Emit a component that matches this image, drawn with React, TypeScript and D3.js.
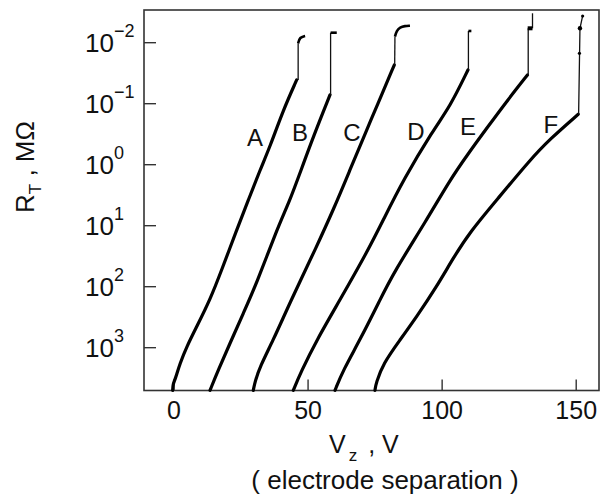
import * as d3 from "d3";

const W = 601, H = 502;
const M = { left: 144, top: 10, right: 599, bottom: 390.5 };
const FONT = "'Liberation Sans', Arial, Helvetica, sans-serif";

// x: electrode voltage Vz (V); y: log10 of R_T (MΩ), axis runs 10^-2 at top to 10^3 at bottom
const X_TICKS = [0, 50, 100, 150];
const Y_TICKS = [-2, -1, 0, 1, 2, 3];

// [Vz, log10 R] — main thick traces
const curveA = [[-0.5, 3.70], [-0.37, 3.595], [0.37, 3.53], [2.24, 3.256], [4.74, 2.984], [8.46, 2.656], [13.42, 2.218], [17.79, 1.725], [23.38, 1.07], [27.7, 0.582], [32.07, 0.09], [35.79, -0.295], [40.75, -0.897], [45.75, -1.389]];
const curveB = [[13.42, 3.70], [16.52, 3.366], [20.88, 2.928], [25.84, 2.436], [30.84, 1.944], [38.29, 1.07], [43.25, 0.582], [46.98, 0.136], [52.2, -0.487], [58.17, -1.143]];
const curveC = [[29.57, 3.70], [30.2, 3.557], [32.07, 3.311], [37.02, 2.874], [42.02, 2.382], [46.98, 1.915], [52.57, 1.398], [59.4, 0.743], [65.62, 0.086], [71.85, -0.569], [75.58, -0.951], [82.14, -1.634]];
const curveD = [[44.48, 3.70], [47.35, 3.398], [53.21, 2.874], [61.89, 2.218], [72.45, 1.398], [78.04, 0.907], [85.5, 0.251], [96.68, -0.569], [102.91, -0.951], [109.62, -1.552]];
const curveE = [[60.03, 3.70], [63.12, 3.366], [69.35, 2.874], [76.81, 2.218], [81.77, 1.78], [94.22, 0.907], [102.91, 0.251], [109.62, -0.175], [116.72, -0.602], [124.16, -1.044], [131.81, -1.47]];
const curveF = [[74.94, 3.70], [75.32, 3.584], [78.04, 3.256], [84.27, 2.874], [90.49, 2.492], [97.95, 2.0], [104.14, 1.53], [110.37, 1.103], [120.32, 0.58], [132.74, -0.077], [140.19, -0.42], [150.75, -0.826]];

// thin vertical jumps at the top of each trace
const jumps = [
  [[46.3, -1.389], [46.3, -1.99]],
  [[58.4, -1.143], [58.4, -2.164]],
  [[82.3, -1.634], [82.4, -2.098]],
  [[109.8, -1.552], [109.8, -2.192]],
  [[132.1, -1.47], [132.1, -2.236]],
  [[133.7, -2.236], [133.7, -2.482]],
  [[150.9, -0.826], [151.4, -2.236], [152.4, -2.438]],
];
// short thick end pieces
const caps = [
  [[46.3, -1.99], [46.9, -2.09], [48.9, -2.11]],
  [[58.4, -2.164], [60.7, -2.164]],
  [[82.4, -2.098], [83.04, -2.197], [84.27, -2.252], [86.13, -2.274], [88.0, -2.279]],
  [[109.8, -2.192], [110.9, -2.192]],
  [[131.9, -2.236], [133.7, -2.236]],
];
const dots = [[151.2, -1.826], [151.4, -2.236], [152.4, -2.438]];

const LABELS = ["A", "B", "C", "D", "E", "F"];
const LABEL_V = [30.2, 46.98, 66.37, 90.23, 109.62, 140.57];
const LABEL_LG = [-0.438, -0.52, -0.52, -0.552, -0.618, -0.667];

const x = d3.scaleLinear().domain([-11.19, 158.5]).range([M.left, M.right]);
const y = d3.scaleLog().domain([10 ** -2.536, 10 ** 3.702]).range([M.top, M.bottom]);

const smooth = d3.line<number[]>().x(d => x(d[0])).y(d => y(10 ** d[1])).curve(d3.curveBasis);
const straight = d3.line<number[]>().x(d => x(d[0])).y(d => y(10 ** d[1]));

export default function App() {
  const curves = [curveA, curveB, curveC, curveD, curveE, curveF];
  return (
    <svg width={W} height={H} style={{ position: "absolute", left: 0, top: 0, background: "#fff" }} fontFamily={FONT}>
      {/* frame */}
      <rect x={M.left} y={M.top} width={M.right - M.left} height={M.bottom - M.top} fill="none" stroke="#333" strokeWidth={1.6} />

      {/* y ticks */}
      {Y_TICKS.map(t => (
        <g key={t}>
          <line x1={M.left} x2={M.left + 12} y1={y(10 ** t)} y2={y(10 ** t)} stroke="#333" strokeWidth={1.4} />
          <text x={85} y={y(10 ** t) + 9} fontSize={26} fill="#111">
            10<tspan dy={-15} fontSize={18}>{t < 0 ? "\u2212" + (-t) : t}</tspan>
          </text>
        </g>
      ))}

      {/* x ticks */}
      {X_TICKS.map(t => (
        <g key={t}>
          <line x1={x(t)} x2={x(t)} y1={M.bottom} y2={M.bottom - 11} stroke="#333" strokeWidth={1.4} />
          <text x={x(t)} y={419} fontSize={25} textAnchor="middle" fill="#111">{t}</text>
        </g>
      ))}

      {/* traces */}
      {curves.map((c, i) => (
        <path key={i} d={smooth(c) || ""} fill="none" stroke="#000" strokeWidth={3.2} strokeLinejoin="round" strokeLinecap="round" />
      ))}
      {jumps.map((j, i) => (
        <path key={"j" + i} d={straight(j) || ""} fill="none" stroke="#111" strokeWidth={1.3} />
      ))}
      {caps.map((c, i) => (
        <path key={"c" + i} d={smooth(c) || ""} fill="none" stroke="#000" strokeWidth={i === 4 ? 4 : 2.6} strokeLinecap="butt" />
      ))}
      {dots.map((d, i) => (
        <circle key={"d" + i} cx={x(d[0])} cy={y(10 ** d[1])} r={i === 1 ? 2.2 : 1.6} fill="#000" />
      ))}

      {/* curve labels */}
      {LABELS.map((l, i) => (
        <text key={l} x={x(LABEL_V[i])} y={y(10 ** LABEL_LG[i])} fontSize={24} textAnchor="middle" dominantBaseline="central" fill="#111">{l}</text>
      ))}

      {/* axis titles */}
      <text transform="translate(34,167) rotate(-90)" fontSize={26} textAnchor="middle" fill="#111">
        R<tspan dy={7} fontSize={17}>T</tspan><tspan dy={-7}> , M&#937;</tspan>
      </text>
      <text x={329} y={453} fontSize={25} fill="#111">
        V<tspan dy={8} dx={3} fontSize={17}>z</tspan><tspan dy={-8} dx={4}> , V</tspan>
      </text>
      <text x={385} y={489} fontSize={26} textAnchor="middle" fill="#111">( electrode separation )</text>
    </svg>
  );
}
